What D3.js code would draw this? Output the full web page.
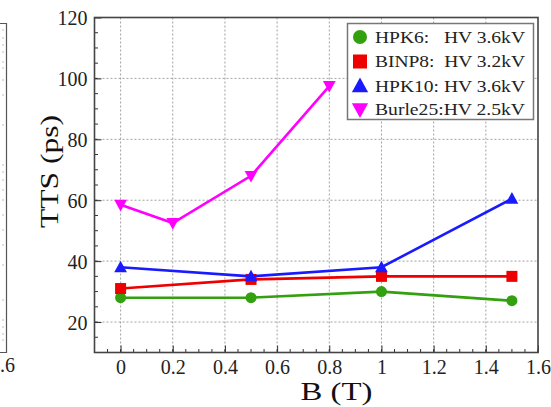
<!DOCTYPE html>
<html><head><meta charset="utf-8">
<script src="https://cdn.jsdelivr.net/npm/d3@7"></script>
<style>html,body{margin:0;padding:0;background:#fff;} svg{display:block;} text{font-family:"Liberation Serif", "Times New Roman", Times, serif;}</style>
</head><body>
<svg id="chart" width="551" height="407"></svg>
<script>
const xTicks = [0, 0.2, 0.4, 0.6, 0.8, 1, 1.2, 1.4, 1.6];
const xTickLabels = ["0", "0.2", "0.4", "0.6", "0.8", "1", "1.2", "1.4", "1.6"];
const yTicks = [20, 40, 60, 80, 100, 120];
const seriesNames = ["HPK6:   HV 3.6kV", "BINP8:  HV 3.2kV", "HPK10: HV 3.6kV", "Burle25:HV 2.5kV"];
const seriesColors = ["#33a00f", "#ee0000", "#1a1aff", "#ff00ff"];
const seriesSymbols = ["circle", "square", "triangle", "triangleDown"];
const hpk6B = [0, 0.5, 1, 1.5];
const hpk6TTS = [28, 28, 30, 27];
const binp8B = [0, 0.5, 1, 1.5];
const binp8TTS = [31, 34, 35, 35];
const hpk10B = [0, 0.5, 1, 1.5];
const hpk10TTS = [38, 35, 38, 60.5];
const burle25B = [0, 0.2, 0.5, 0.8];
const burle25TTS = [58.5, 52.5, 68, 97.5];

const seriesB = [hpk6B, binp8B, hpk10B, burle25B];
const seriesTTS = [hpk6TTS, binp8TTS, hpk10TTS, burle25TTS];

const svg = d3.select("#chart");
const L = 94.5, R = 538, T = 17.5, B = 352.5;
const x = d3.scaleLinear().domain([-0.1, 1.6]).range([L, R]);
const y = d3.scaleLinear().domain([10, 120]).range([B, T]);
const serif = "Liberation Serif";

// left partial panel
const lp = svg.append("g");
lp.append("path").attr("d", "M0,23.5 H6.5 V352.5 H0").attr("fill", "none").attr("stroke", "#555").attr("stroke-width", 1.2);
[30,38,45,52,62,68,80,95,125,165,172,180,190,200,215,230,245,265,300,320,327,334,340].forEach(v=>{
  lp.append("line").attr("x1",2).attr("x2",4).attr("y1",v).attr("y2",v).attr("stroke","#bbb").attr("stroke-width",1);
});
lp.append("text").attr("x", 0).attr("y", 372).attr("font-family", serif).attr("font-size", 20).attr("fill", "#222").text(".6");

// grid
const grid = svg.append("g");
xTicks.filter(t => t > -0.1 && t < 1.6).forEach(t => {
  grid.append("line").attr("x1", x(t)).attr("x2", x(t)).attr("y1", T).attr("y2", B)
    .attr("stroke", "#8a8a8a").attr("stroke-width", 0.8).attr("stroke-dasharray", "2,2");
});
yTicks.filter(t => t < 120).forEach(t => {
  grid.append("line").attr("x1", L).attr("x2", R).attr("y1", y(t)).attr("y2", y(t))
    .attr("stroke", "#8a8a8a").attr("stroke-width", 0.8).attr("stroke-dasharray", "2,2");
});

// axes with inward ticks
const xAxis = d3.axisBottom(x).tickValues(xTicks).tickFormat((d, i) => xTickLabels[i]).tickSize(-7).tickPadding(7);
const gx = svg.append("g").attr("transform", `translate(0,${B})`).call(xAxis);
const yAxis = d3.axisLeft(y).tickValues(yTicks).tickSize(-7).tickPadding(7);
const gy = svg.append("g").attr("transform", `translate(${L},0)`).call(yAxis);
[gx, gy].forEach(g => {
  g.attr("font-family", null);
  g.select(".domain").remove();
  g.selectAll(".tick line").attr("stroke", "#333").attr("stroke-width", 1);
  g.selectAll(".tick text").attr("font-family", serif).attr("font-size", 20).attr("fill", "#222");
});
gy.selectAll(".tick text").attr("dy", "0.35em");
// minor ticks
d3.range(-0.1, 1.6001, 0.05).forEach(t => {
  svg.append("line").attr("x1", x(t)).attr("x2", x(t)).attr("y1", B).attr("y2", B - 3.5).attr("stroke", "#333").attr("stroke-width", 1);
});
d3.range(10, 120.001, 5).forEach(t => {
  svg.append("line").attr("x1", L).attr("x2", L + 3.5).attr("y1", y(t)).attr("y2", y(t)).attr("stroke", "#333").attr("stroke-width", 1);
});

// frame
svg.append("rect").attr("x", L).attr("y", T).attr("width", R - L).attr("height", B - T)
  .attr("fill", "none").attr("stroke", "#444").attr("stroke-width", 1.6);

// symbols
function drawSymbol(g, type, cx, cy, color, s) {
  if (type === "circle") g.append("circle").attr("cx", cx).attr("cy", cy).attr("r", s * 0.5).attr("fill", color);
  else if (type === "square") g.append("rect").attr("x", cx - s * 0.5).attr("y", cy - s * 0.5).attr("width", s).attr("height", s).attr("fill", color);
  else if (type === "triangle") g.append("path").attr("d", `M${cx},${cy - s * 0.6} L${cx + s * 0.58},${cy + s * 0.45} L${cx - s * 0.58},${cy + s * 0.45}Z`).attr("fill", color);
  else g.append("path").attr("d", `M${cx},${cy + s * 0.6} L${cx + s * 0.58},${cy - s * 0.45} L${cx - s * 0.58},${cy - s * 0.45}Z`).attr("fill", color);
}

const line = d3.line().x(d => x(d[0])).y(d => y(d[1]));
[0, 1, 2, 3].forEach(i => {
  const pts = seriesB[i].map((b, k) => [b, seriesTTS[i][k]]);
  const g = svg.append("g");
  g.append("path").attr("d", line(pts)).attr("fill", "none").attr("stroke", seriesColors[i]).attr("stroke-width", 2.6);
  pts.forEach(p => drawSymbol(g, seriesSymbols[i], x(p[0]), y(p[1]), seriesColors[i], 11));
});

// legend
const lg = svg.append("g");
lg.append("rect").attr("x", 347.5).attr("y", 23.5).attr("width", 186).attr("height", 96)
  .attr("fill", "#fff").attr("stroke", "#777").attr("stroke-width", 1.5);
const rowY = [37, 61.5, 86, 109.5];
seriesNames.forEach((n, i) => {
  drawSymbol(lg, seriesSymbols[i], 360, rowY[i], seriesColors[i], 14);
  lg.append("text").attr("x", 375).attr("y", rowY[i]).attr("dy", "0.35em")
    .attr("font-family", serif).attr("font-size", 17).attr("fill", "#222")
    .attr("textLength", 150).attr("lengthAdjust", "spacingAndGlyphs")
    .style("white-space", "pre").text(n);
});

// axis titles
svg.append("text").attr("x", 336.5).attr("y", 400).attr("text-anchor", "middle")
  .attr("font-family", serif).attr("font-size", 25).attr("fill", "#111")
  .attr("textLength", 72).attr("lengthAdjust", "spacingAndGlyphs").text("B (T)");
svg.append("text").attr("transform", "translate(58,171.5) rotate(-90)").attr("text-anchor", "middle")
  .attr("font-family", serif).attr("font-size", 25).attr("fill", "#111")
  .attr("textLength", 113).attr("lengthAdjust", "spacingAndGlyphs").text("TTS (ps)");
</script>
</body></html>
